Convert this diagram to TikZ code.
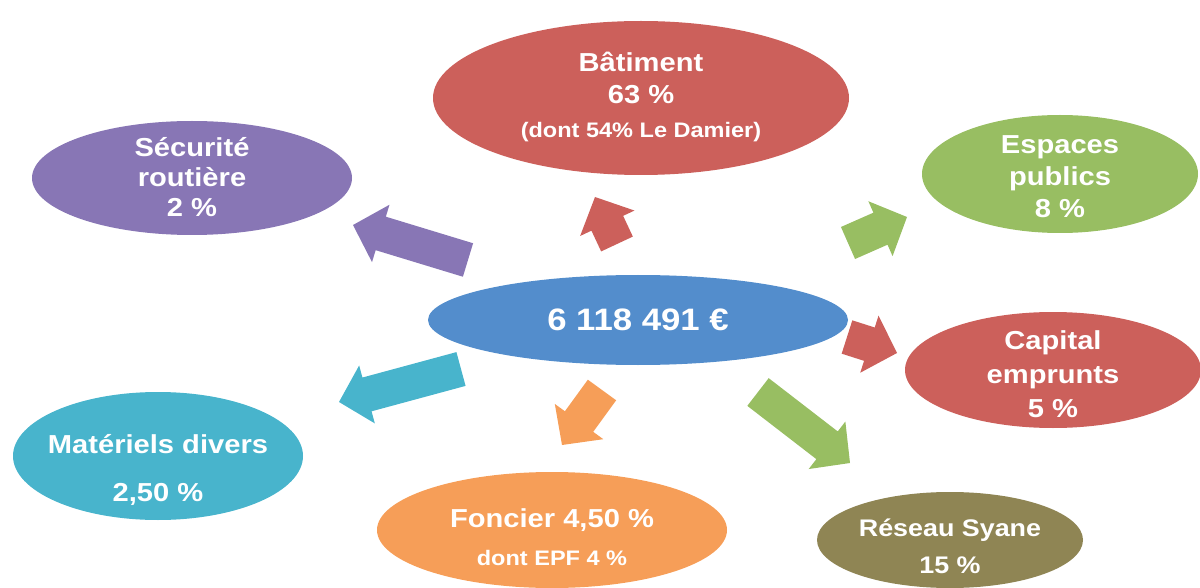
\documentclass[tikz,border=0pt]{standalone}
\usepackage{fontspec}
\setmainfont{Liberation Sans}[FakeStretch=1.12]
\usetikzlibrary{shapes.geometric,calc}
\definecolor{cblue}{RGB}{83,141,204}
\definecolor{cred}{RGB}{204,96,91}
\definecolor{cpurple}{RGB}{136,118,181}
\definecolor{cgreen}{RGB}{152,190,98}
\definecolor{ccyan}{RGB}{72,180,204}
\definecolor{corange}{RGB}{246,158,88}
\definecolor{colive}{RGB}{143,133,84}
\newcommand\blockarr[3]{%
  \coordinate (h) at ($(#2)!29pt!(#1)$);
  \fill[#3] ($(#1)!17.5pt!90:(#2)$) -- ($(h)!17.5pt!90:(#2)$) -- ($(h)!30pt!90:(#2)$)
    -- (#2) -- ($(h)!30pt!-90:(#2)$) -- ($(h)!17.5pt!-90:(#2)$) -- ($(#1)!17.5pt!-90:(#2)$) -- cycle;}
\tikzset{
  blob/.style={ellipse, inner sep=0pt, outer sep=0pt},
  lbl/.style={text=white, align=center, inner sep=0pt, font=\fontsize{26}{32}\selectfont\bfseries},
}
\begin{document}
\begin{tikzpicture}[x=1pt,y=-1pt]
\useasboundingbox (0,0) rectangle (1200,588);
% ellipses
\node[blob, fill=cblue, minimum width=420pt, minimum height=90pt] (ctr) at (638,320) {};
\node[blob, fill=cred, minimum width=416pt, minimum height=154pt] (bat) at (641,98) {};
\node[blob, fill=cpurple, minimum width=320pt, minimum height=114pt] (sec) at (192,178) {};
\node[blob, fill=cgreen, minimum width=276pt, minimum height=118pt] (esp) at (1060,174) {};
\node[blob, fill=cred, minimum width=296pt, minimum height=116pt] (cap) at (1053,370) {};
\node[blob, fill=ccyan, minimum width=290pt, minimum height=128pt] (mat) at (158,456) {};
\node[blob, fill=corange, minimum width=350pt, minimum height=116pt] (fon) at (552,530) {};
\node[blob, fill=colive, minimum width=266pt, minimum height=96pt] (res) at (950,540) {};
% texts
\node[lbl, font=\fontsize{31}{36}\selectfont\bfseries] (ctrT) at (638,320) {6 118 491 €};
\node[lbl] (batT) at (641,97) {Bâtiment\\63 \%\\[2pt]{\fontsize{21}{26}\selectfont (dont 54\% Le Damier)}};
\node[lbl, font=\fontsize{26}{30}\selectfont\bfseries] (secT) at (192,177) {Sécurité\\routière\\2 \%};
\node[lbl] (espT) at (1060,177) {Espaces\\publics\\8 \%};
\node[lbl, font=\fontsize{26}{34}\selectfont\bfseries] (capT) at (1053,374) {Capital\\emprunts\\5 \%};
\node[lbl, font=\fontsize{26}{48}\selectfont\bfseries] (matT) at (158,470) {Matériels divers\\2,50 \%};
\node[lbl, font=\fontsize{26}{38}\selectfont\bfseries] (fonT) at (552,537) {Foncier 4,50 \%\\{\fontsize{21}{26}\selectfont dont EPF 4 \%}};
\node[lbl, font=\fontsize{24}{37}\selectfont\bfseries] (resT) at (950,546) {Réseau Syane\\15 \%};
% arrow end points
\coordinate (a1s) at (468,260); \coordinate (a1e) at (353,225);
\coordinate (a2s) at (617,244); \coordinate (a2e) at (595,197);
\coordinate (a3s) at (461,369); \coordinate (a3e) at (339,402);
\coordinate (a4s) at (602,390); \coordinate (a4e) at (562,445);
\coordinate (a5s) at (848,243); \coordinate (a5e) at (907,217);
\coordinate (a6s) at (847,337); \coordinate (a6e) at (897,353);
\coordinate (a7s) at (758,392); \coordinate (a7e) at (850,463);
\blockarr{a1s}{a1e}{cpurple}
\blockarr{a2s}{a2e}{cred}
\blockarr{a3s}{a3e}{ccyan}
\blockarr{a4s}{a4e}{corange}
\blockarr{a5s}{a5e}{cgreen}
\blockarr{a6s}{a6e}{cred}
\blockarr{a7s}{a7e}{cgreen}
\end{tikzpicture}
\end{document}
